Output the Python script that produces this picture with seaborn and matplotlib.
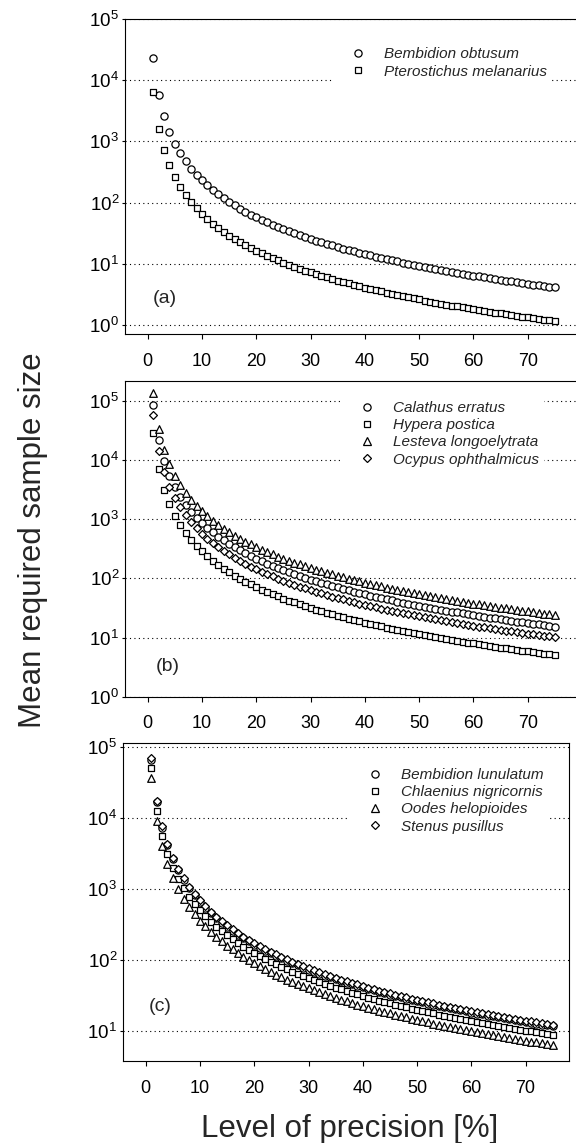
import numpy as np
import matplotlib
matplotlib.use("Agg")
import matplotlib.pyplot as plt
import seaborn as sns
from matplotlib.lines import Line2D
from matplotlib.ticker import LogLocator, LogFormatterSciNotation, NullLocator

# Level of precision (%) - shared x positions
precision = np.arange(1, 76)

# (a)
bembidion_obtusum = [
    23000, 5750, 2560, 1440, 920, 639, 469, 359, 284, 230, 190, 160, 136, 117, 102,
    89.8, 79.6, 71.0, 63.7, 57.5, 52.2, 47.5, 43.5, 39.9, 36.8, 34.0, 31.5, 29.3, 27.3, 25.6,
    23.9, 22.5, 21.1, 19.9, 18.8, 17.7, 16.8, 15.9, 15.1, 14.4, 13.7, 13.0, 12.4, 11.9, 11.4,
    10.9, 10.4, 9.98, 9.58, 9.20, 8.84, 8.51, 8.19, 7.89, 7.60, 7.33, 7.08, 6.84, 6.61, 6.39,
    6.18, 5.98, 5.79, 5.62, 5.44, 5.28, 5.12, 4.97, 4.83, 4.69, 4.56, 4.44, 4.32, 4.20, 4.09]
pterostichus_melanarius = [
    6500, 1620, 722, 406, 260, 181, 133, 102, 80.2, 65.0, 53.7, 45.1, 38.5, 33.2, 28.9,
    25.4, 22.5, 20.1, 18.0, 16.2, 14.7, 13.4, 12.3, 11.3, 10.4, 9.62, 8.92, 8.29, 7.73, 7.22,
    6.76, 6.35, 5.97, 5.62, 5.31, 5.02, 4.75, 4.50, 4.27, 4.06, 3.87, 3.68, 3.52, 3.36, 3.21,
    3.07, 2.94, 2.82, 2.71, 2.60, 2.50, 2.40, 2.31, 2.23, 2.15, 2.07, 2.00, 1.93, 1.87, 1.81,
    1.75, 1.69, 1.64, 1.59, 1.54, 1.49, 1.45, 1.41, 1.37, 1.33, 1.29, 1.25, 1.22, 1.19, 1.16]

# (b)
calathus_erratus = [
    86000, 21500, 9560, 5380, 3440, 2390, 1760, 1340, 1060, 860, 711, 597, 509, 439, 382,
    336, 298, 265, 238, 215, 195, 178, 163, 149, 138, 127, 118, 110, 102, 95.6,
    89.5, 84.0, 79.0, 74.4, 70.2, 66.4, 62.8, 59.6, 56.5, 53.8, 51.2, 48.8, 46.5, 44.4, 42.5,
    40.6, 38.9, 37.3, 35.8, 34.4, 33.1, 31.8, 30.6, 29.5, 28.4, 27.4, 26.5, 25.6, 24.7, 23.9,
    23.1, 22.4, 21.7, 21.0, 20.4, 19.7, 19.2, 18.6, 18.1, 17.6, 17.1, 16.6, 16.1, 15.7, 15.3]
hypera_postica = [
    28500, 7120, 3170, 1780, 1140, 792, 582, 445, 352, 285, 236, 198, 169, 145, 127,
    111, 98.6, 88.0, 78.9, 71.2, 64.6, 58.9, 53.9, 49.5, 45.6, 42.2, 39.1, 36.4, 33.9, 31.7,
    29.7, 27.8, 26.2, 24.7, 23.3, 22.0, 20.8, 19.7, 18.7, 17.8, 17.0, 16.2, 15.4, 14.7, 14.1,
    13.5, 12.9, 12.4, 11.9, 11.4, 11.0, 10.5, 10.1, 9.77, 9.42, 9.09, 8.77, 8.47, 8.19, 7.92,
    7.66, 7.41, 7.18, 6.96, 6.75, 6.54, 6.35, 6.16, 5.99, 5.82, 5.65, 5.50, 5.35, 5.20, 5.07]
lesteva_longoelytrata = [
    135000, 33800, 15000, 8440, 5400, 3750, 2760, 2110, 1670, 1350, 1120, 938, 799, 689, 600,
    527, 467, 417, 374, 338, 306, 279, 255, 234, 216, 200, 185, 172, 161, 150,
    140, 132, 124, 117, 110, 104, 98.6, 93.5, 88.8, 84.4, 80.3, 76.5, 73.0, 69.7, 66.7,
    63.8, 61.1, 58.6, 56.2, 54.0, 51.9, 49.9, 48.1, 46.3, 44.6, 43.0, 41.6, 40.1, 38.8, 37.5,
    36.3, 35.1, 34.0, 33.0, 32.0, 31.0, 30.1, 29.2, 28.4, 27.6, 26.8, 26.0, 25.3, 24.7, 24.0]
ocypus_ophthalmicus = [
    57000, 14200, 6330, 3560, 2280, 1580, 1160, 891, 704, 570, 471, 396, 337, 291, 253,
    223, 197, 176, 158, 142, 129, 118, 108, 99.0, 91.2, 84.3, 78.2, 72.7, 67.8, 63.3,
    59.3, 55.7, 52.3, 49.3, 46.5, 44.0, 41.6, 39.5, 37.5, 35.6, 33.9, 32.3, 30.8, 29.4, 28.1,
    26.9, 25.8, 24.7, 23.7, 22.8, 21.9, 21.1, 20.3, 19.5, 18.8, 18.2, 17.5, 16.9, 16.4, 15.8,
    15.3, 14.8, 14.4, 13.9, 13.5, 13.1, 12.7, 12.3, 12.0, 11.6, 11.3, 11.0, 10.7, 10.4, 10.1]

# (c)
bembidion_lunulatum = [
    66000, 16500, 7330, 4120, 2640, 1830, 1350, 1030, 815, 660, 545, 458, 391, 337, 293,
    258, 228, 204, 183, 165, 150, 136, 125, 115, 106, 97.6, 90.5, 84.2, 78.5, 73.3,
    68.7, 64.5, 60.6, 57.1, 53.9, 50.9, 48.2, 45.7, 43.4, 41.2, 39.3, 37.4, 35.7, 34.1, 32.6,
    31.2, 29.9, 28.6, 27.5, 26.4, 25.4, 24.4, 23.5, 22.6, 21.8, 21.0, 20.3, 19.6, 19.0, 18.3,
    17.7, 17.2, 16.6, 16.1, 15.6, 15.2, 14.7, 14.3, 13.9, 13.5, 13.1, 12.7, 12.4, 12.1, 11.7]
chlaenius_nigricornis = [
    50000, 12500, 5560, 3120, 2000, 1390, 1020, 781, 617, 500, 413, 347, 296, 255, 222,
    195, 173, 154, 139, 125, 113, 103, 94.5, 86.8, 80.0, 74.0, 68.6, 63.8, 59.5, 55.6,
    52.0, 48.8, 45.9, 43.3, 40.8, 38.6, 36.5, 34.6, 32.9, 31.2, 29.7, 28.3, 27.0, 25.8, 24.7,
    23.6, 22.6, 21.7, 20.8, 20.0, 19.2, 18.5, 17.8, 17.1, 16.5, 15.9, 15.4, 14.9, 14.4, 13.9,
    13.4, 13.0, 12.6, 12.2, 11.8, 11.5, 11.1, 10.8, 10.5, 10.2, 9.92, 9.65, 9.38, 9.13, 8.89]
oodes_helopioides = [
    36000, 9000, 4000, 2250, 1440, 1000, 735, 562, 444, 360, 298, 250, 213, 184, 160,
    141, 125, 111, 99.7, 90.0, 81.6, 74.4, 68.1, 62.5, 57.6, 53.3, 49.4, 45.9, 42.8, 40.0,
    37.5, 35.2, 33.1, 31.1, 29.4, 27.8, 26.3, 24.9, 23.7, 22.5, 21.4, 20.4, 19.5, 18.6, 17.8,
    17.0, 16.3, 15.6, 15.0, 14.4, 13.8, 13.3, 12.8, 12.3, 11.9, 11.5, 11.1, 10.7, 10.3, 10.0,
    9.67, 9.37, 9.07, 8.79, 8.52, 8.26, 8.02, 7.79, 7.56, 7.35, 7.14, 6.94, 6.76, 6.57, 6.40]
stenus_pusillus = [
    69000, 17200, 7670, 4310, 2760, 1920, 1410, 1080, 852, 690, 570, 479, 408, 352, 307,
    270, 239, 213, 191, 172, 156, 143, 130, 120, 110, 102, 94.7, 88.0, 82.0, 76.7,
    71.8, 67.4, 63.4, 59.7, 56.3, 53.2, 50.4, 47.8, 45.4, 43.1, 41.0, 39.1, 37.3, 35.6, 34.1,
    32.6, 31.2, 29.9, 28.7, 27.6, 26.5, 25.5, 24.6, 23.7, 22.8, 22.0, 21.2, 20.5, 19.8, 19.2,
    18.5, 17.9, 17.4, 16.8, 16.3, 15.8, 15.4, 14.9, 14.5, 14.1, 13.7, 13.3, 12.9, 12.6, 12.3]

sns.set_theme(style="ticks")
plt.rcParams["font.family"] = ["Liberation Sans", "DejaVu Sans"]
plt.rcParams["mathtext.fontset"] = "custom"
plt.rcParams["mathtext.rm"] = "Liberation Sans"
plt.rcParams["mathtext.it"] = "Liberation Sans:italic"
plt.rcParams["axes.edgecolor"] = "black"
plt.rcParams["axes.linewidth"] = 0.8

# marker -> size (pt^2)
tamanho = {"o": 27, "s": 23, "^": 30, "D": 16}

paineis = [
    dict(pos=[0.2170, 0.7078, 0.7934, 0.2756], xlim=(-4.2, 80), ylim=(0.71, 1e5),
         letra="(a)", letra_xy=(0.9, 2.66), leg=(0.452, 0.924),
         series=[("Bembidion obtusum", bembidion_obtusum, "o"),
                 ("Pterostichus melanarius", pterostichus_melanarius, "s")]),
    dict(pos=[0.2170, 0.3905, 0.7934, 0.2765], xlim=(-4.2, 80), ylim=(1, 2.2e5),
         letra="(b)", letra_xy=(1.4, 3.2), leg=(0.472, 0.950),
         series=[("Calathus erratus", calathus_erratus, "o"),
                 ("Hypera postica", hypera_postica, "s"),
                 ("Lesteva longoelytrata", lesteva_longoelytrata, "^"),
                 ("Ocypus ophthalmicus", ocypus_ophthalmicus, "D")]),
    dict(pos=[0.2135, 0.0717, 0.7743, 0.2782], xlim=(-4.2, 78), ylim=(3.8, 1.13e5),
         letra="(c)", letra_xy=(0.5, 22), leg=(0.506, 0.936),
         series=[("Bembidion lunulatum", bembidion_lunulatum, "o"),
                 ("Chlaenius nigricornis", chlaenius_nigricornis, "s"),
                 ("Oodes helopioides", oodes_helopioides, "^"),
                 ("Stenus pusillus", stenus_pusillus, "D")]),
]

fig = plt.figure(figsize=(5.76, 11.43), dpi=100)

for p in paineis:
    ax = fig.add_axes(p["pos"])
    handles = []
    for nome, valores, m in p["series"]:
        sns.scatterplot(x=precision, y=valores, marker=m, s=tamanho[m],
                        color="white", edgecolor="black", linewidth=0.9,
                        ax=ax, zorder=3, legend=False)
        handles.append(Line2D([], [], ls="none", marker=m, ms=np.sqrt(tamanho[m]),
                              mfc="white", mec="black", mew=0.9))
    ax.set_yscale("log")
    ax.set_xlim(*p["xlim"])
    ax.set_ylim(*p["ylim"])
    ax.set_xticks(range(0, 80, 10))
    ax.yaxis.set_major_locator(LogLocator(base=10, numticks=10))
    ax.yaxis.set_major_formatter(LogFormatterSciNotation())
    ax.yaxis.set_minor_locator(NullLocator())
    ax.tick_params(axis="x", direction="out", length=3.4, width=0.8, pad=10,
                   labelsize=13, colors="black")
    ax.tick_params(axis="y", direction="out", length=2.2, width=0.8, pad=2,
                   labelsize=13.5, colors="black")
    ax.yaxis.grid(True, which="major", color="black", linestyle=(0, (1, 3)), linewidth=0.8)
    ax.set_axisbelow(True)
    ax.set_xlabel("")
    ax.set_ylabel("")
    ax.text(*p["letra_xy"], p["letra"], fontsize=14, ha="left", va="center")
    ax.legend(handles, [s[0] for s in p["series"]], loc="upper left",
              bbox_to_anchor=p["leg"], borderaxespad=0, frameon=True, fancybox=False,
              facecolor="white", edgecolor="none", framealpha=1,
              handlelength=2.8, handletextpad=0.33, borderpad=0.3, labelspacing=0.21,
              prop={"family": "Liberation Sans", "style": "italic", "size": 11})

fig.text(0.058, 0.5276, "Mean required sample size", rotation=90,
         ha="center", va="center", fontsize=22.5)
fig.text(0.6076, 0.0053, "Level of precision [%]", ha="center", va="baseline",
         fontsize=22.5)

fig.savefig("out.png", dpi=100)
